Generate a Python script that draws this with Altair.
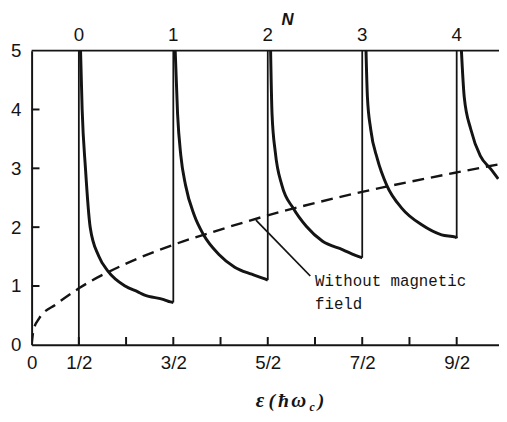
import altair as alt
import pandas as pd

# ---- data ----
# sawtooth density-of-states branches (energy in units of hbar*omega_c)
seg1_x = [0.518, 0.535, 0.57, 0.62, 0.71, 0.81, 0.99, 1.125, 1.19, 1.40, 1.47, 1.5]
seg1_y = [5.0, 4.0, 3.0, 2.0, 1.51, 1.25, 1.0, 0.90, 0.85, 0.77, 0.73, 0.72]
seg2_x = [1.52, 1.545, 1.58, 1.63, 1.72, 1.82, 1.98, 2.15, 2.33, 2.47, 2.5]
seg2_y = [5.0, 3.93, 3.21, 2.71, 2.21, 1.87, 1.54, 1.32, 1.20, 1.12, 1.10]
seg3_x = [2.53, 2.545, 2.58, 2.65, 2.77, 2.91, 3.08, 3.29, 3.48, 3.5]
seg3_y = [5.0, 3.93, 3.27, 2.71, 2.32, 2.01, 1.76, 1.62, 1.49, 1.48]
seg4_x = [3.54, 3.555, 3.59, 3.66, 3.76, 3.92, 4.13, 4.34, 4.49, 4.5]
seg4_y = [5.0, 4.21, 3.66, 3.16, 2.71, 2.32, 2.04, 1.87, 1.83, 1.81]
seg5_x = [4.55, 4.58, 4.65, 4.75, 4.86, 4.94]
seg5_y = [5.0, 4.21, 3.66, 3.21, 2.99, 2.82]

# vertical rises at the Landau levels
rise_x = [0.5, 1.5, 2.5, 3.5, 4.5]
rise_lo = [0.0, 0.72, 1.10, 1.48, 1.81]
rise_hi = [5.0, 5.0, 5.0, 5.0, 5.0]

# dashed curve: without magnetic field
free_x = [0, 0.02, 0.08, 0.26, 0.5, 1.0, 1.5, 2.0, 2.5, 3.0, 3.5, 4.0, 4.5, 4.95]
free_y = [0, 0.25, 0.45, 0.69, 0.96, 1.38, 1.70, 1.96, 2.20, 2.41, 2.60, 2.77, 2.93, 3.07]

# axes
x_label_vals = [0, 0.5, 1.5, 2.5, 3.5, 4.5]
x_tick_vals = [0.5, 1, 1.5, 2, 2.5, 3, 3.5, 4, 4.5]
y_label_vals = [0, 1, 2, 3, 4, 5]
y_tick_vals = [1, 2, 3, 4]
n_labels = ["0", "1", "2", "3", "4"]
n_pos = [0.5, 1.5, 2.5, 3.5, 4.5]

annot_lines = ["Without magnetic", "field"]
annot_x = [3.0, 3.0]
annot_y = [1.09, 0.70]
leader = {"x": [2.375], "y": [2.12], "x2": [2.95], "y2": [1.17]}

# ---- tables ----
rows = []
for i, (xs, ys) in enumerate([(seg1_x, seg1_y), (seg2_x, seg2_y), (seg3_x, seg3_y),
                               (seg4_x, seg4_y), (seg5_x, seg5_y)]):
    for a, b in zip(xs, ys):
        rows.append({"seg": i, "e": a, "d": b})
curves = pd.DataFrame(rows)
rises = pd.DataFrame({"e": rise_x, "lo": rise_lo, "hi": rise_hi})
free = pd.DataFrame({"e": free_x, "d": free_y})
annot = pd.DataFrame({"e": annot_x, "d": annot_y, "t": annot_lines})
lead = pd.DataFrame(leader)
xt = pd.DataFrame({"e": x_tick_vals})
yt = pd.DataFrame({"d": y_tick_vals})
top = pd.DataFrame({"e": n_pos, "t": n_labels})
topline = pd.DataFrame({"d": [5]})

W, H = 475, 299
XS = alt.Scale(domain=[0, W / 96.0], nice=False, zero=False)
YS = alt.Scale(domain=[0, 5], nice=False, zero=False)
INK = "#141414"
SANS = "Liberation Sans"
LSIZE = 19

XA = alt.Axis(
    values=x_label_vals, ticks=False, grid=False, title=None,
    labelExpr="datum.value == 0 ? '0' : round(datum.value*2) + '/2'",
    labelFont=SANS, labelFontSize=LSIZE, labelColor=INK, labelPadding=9,
    domainColor=INK, domainWidth=2, labelFlush=False)
YA = alt.Axis(
    values=y_label_vals, ticks=False, grid=False, title=None,
    labelFont=SANS, labelFontSize=LSIZE, labelColor=INK, labelPadding=11,
    domainColor=INK, domainWidth=2, labelFlush=False)


def X(field):
    return alt.X(field, scale=XS, axis=XA)


def Y(field):
    return alt.Y(field, scale=YS, axis=YA)


curve_layer = alt.Chart(curves).mark_line(
    color=INK, strokeWidth=3, interpolate="monotone", clip=True
).encode(x=X("e:Q"), y=Y("d:Q"), detail="seg:N")

rise_layer = alt.Chart(rises).mark_rule(color=INK, strokeWidth=1.8).encode(
    x=X("e:Q"), y=Y("lo:Q"), y2="hi:Q"
)

free_layer = alt.Chart(free).mark_line(
    color=INK, strokeWidth=2.4, strokeDash=[12, 7], interpolate="monotone", clip=True
).encode(x=X("e:Q"), y=Y("d:Q"))

lead_layer = alt.Chart(lead).mark_rule(color=INK, strokeWidth=1.8).encode(
    x=X("x:Q"), y=Y("y:Q"), x2="x2:Q", y2="y2:Q"
)

annot_layer = alt.Chart(annot).mark_text(
    align="left", baseline="middle", font="Liberation Mono", fontSize=16, color=INK
).encode(x=X("e:Q"), y=Y("d:Q"), text="t:N")

xtick_layer = alt.Chart(xt).mark_rule(color=INK, strokeWidth=2).encode(
    x=X("e:Q"), y=alt.value(H), y2=alt.value(H - 8)
)
ytick_layer = alt.Chart(yt).mark_rule(color=INK, strokeWidth=2).encode(
    y=Y("d:Q"), x=alt.value(0), x2=alt.value(8)
)
topline_layer = alt.Chart(topline).mark_rule(color=INK, strokeWidth=2).encode(
    y=Y("d:Q"), x=alt.value(0), x2=alt.value(W)
)
top_layer = alt.Chart(top).mark_text(
    align="center", baseline="middle", font=SANS, fontSize=LSIZE, color=INK
).encode(x=X("e:Q"), y=alt.value(-16), text="t:N")

n_title = alt.Chart(pd.DataFrame({"t": ["N"]})).mark_text(
    align="center", baseline="middle", font=SANS, fontSize=17,
    fontStyle="italic", fontWeight="bold", color=INK
).encode(x=alt.value(260), y=alt.value(-31), text="t:N")


def glyph(t, x, y, size):
    return alt.Chart(pd.DataFrame({"t": [t]})).mark_text(
        align="center", baseline="alphabetic", font="Liberation Serif",
        fontSize=size, fontStyle="italic", fontWeight="bold", color=INK
    ).encode(x=alt.value(x), y=alt.value(y), text="t:N")


title_layers = [
    glyph("ε", 232, 362, 21),
    glyph("(", 244, 362, 20),
    glyph("ħ", 256, 362, 20),
    glyph("ω", 271.5, 362, 21),
    glyph("c", 285, 366, 12),
    glyph(")", 294, 362, 20),
]

chart = alt.layer(
    curve_layer, rise_layer, free_layer, lead_layer, annot_layer,
    xtick_layer, ytick_layer, topline_layer, top_layer, n_title, *title_layers
).properties(
    width=W, height=H,
    padding={"left": 24, "top": 40, "right": 0, "bottom": 70},
    autosize=alt.AutoSizeParams(type="none"),
    background="white",
).configure_view(stroke=None)

chart.save("out.html", embed_options={"renderer": "svg", "actions": False})
